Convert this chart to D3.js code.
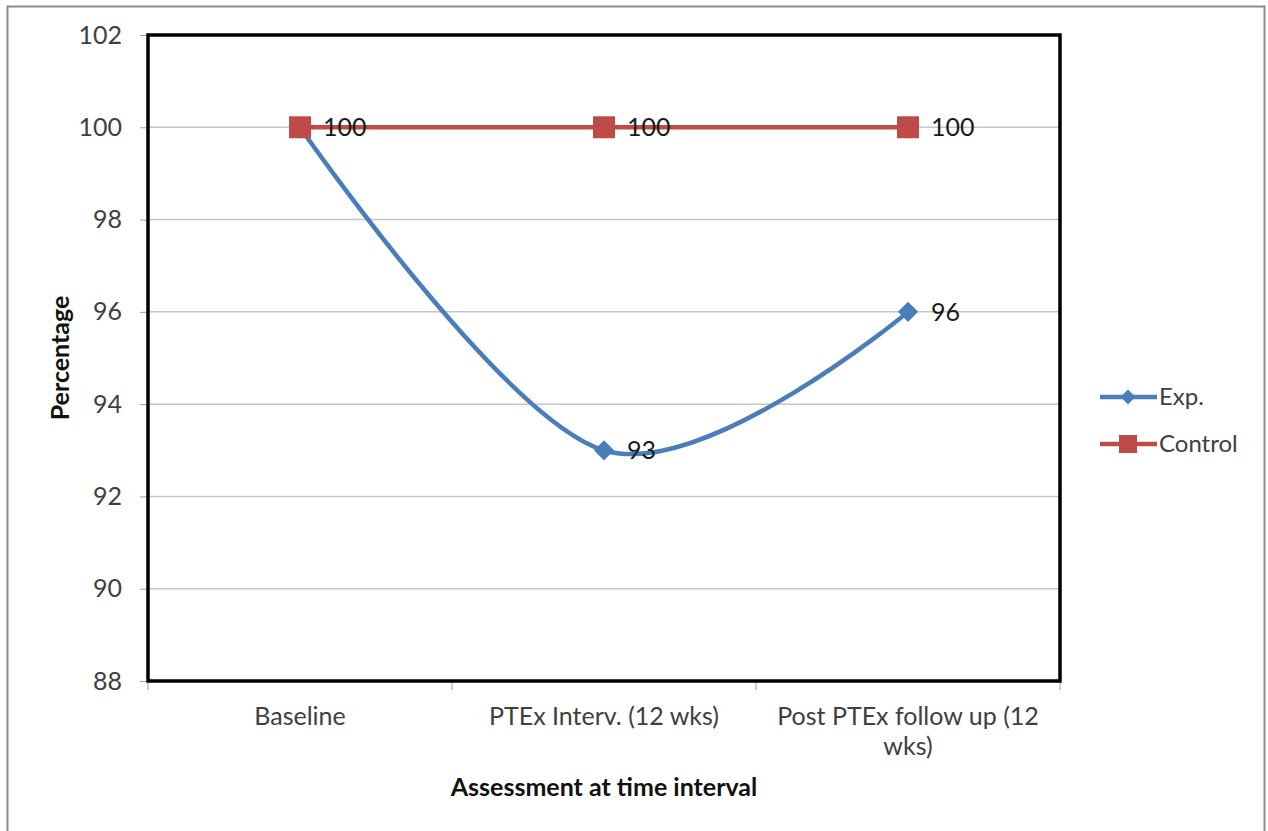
<!DOCTYPE html>
<html>
<head>
<meta charset="utf-8">
<script src="https://cdn.jsdelivr.net/npm/d3@7"></script>
<style>
  body { margin: 0; background: #fff; }
  svg { display: block; font-family: Lato, "Open Sans", sans-serif; }
</style>
</head>
<body>
<svg class="chart"></svg>
<script>
var categories = ["Baseline", "PTEx Interv. (12 wks)", "Post PTEx follow up (12 wks)"];
var expValues = [100, 93, 96];
var controlValues = [100, 100, 100];
var seriesNames = ["Exp.", "Control"];
var yTicks = [88, 90, 92, 94, 96, 98, 100, 102];

var width = 1268;
var height = 831;
var plotLeft = 148, plotTop = 35, plotRight = 1060, plotBottom = 681;
var fontSize = 25;

var svg = d3.select(".chart")
  .attr("width", width)
  .attr("height", height);

// outer frame
svg.append("rect")
   .attr("x", 7.5).attr("y", 6.5)
   .attr("width", 1257).attr("height", 830)
   .attr("fill", "#fff")
   .attr("stroke", "#8c8c8c")
   .attr("stroke-width", 2);

var x = d3.scaleBand()
  .domain(categories)
  .range([plotLeft, plotRight]);

var y = d3.scaleLinear()
  .domain([88, 102])
  .range([plotBottom, plotTop]);

var colors = {"Exp.": "#4a7ebb", "Control": "#be4b48"};

// gridlines
svg.selectAll("line.grid")
   .data(yTicks)
   .enter()
   .append("line")
   .attr("class", "grid")
   .attr("x1", plotLeft).attr("x2", plotRight)
   .attr("y1", function(d){return y(d);})
   .attr("y2", function(d){return y(d);})
   .attr("stroke", "#c6c6c6")
   .attr("stroke-width", 1.5);

// y axis
var yAxis = svg.append("g")
  .attr("transform", "translate(" + plotLeft + ",0)")
  .call(d3.axisLeft(y).tickValues(yTicks).tickSize(8).tickPadding(18));
yAxis.select(".domain").remove();
yAxis.selectAll("line").attr("stroke", "#a0a0a0");
yAxis.selectAll("text")
  .attr("font-size", fontSize)
  .attr("fill", "#404040")
  .style("font-family", "Lato, sans-serif");

// x axis ticks at band edges
var edges = categories.map(function(c){return x(c);}).concat([plotRight]);
svg.selectAll("line.xtick")
   .data(edges)
   .enter()
   .append("line")
   .attr("class", "xtick")
   .attr("x1", function(d){return d;})
   .attr("x2", function(d){return d;})
   .attr("y1", plotBottom).attr("y2", plotBottom + 9)
   .attr("stroke", "#a0a0a0");

// x labels (wrapped)
var xLabels = [["Baseline"], ["PTEx Interv. (12 wks)"], ["Post PTEx follow up (12", "wks)"]];
svg.selectAll("text.xlab")
   .data(categories)
   .enter()
   .append("text")
   .attr("class", "xlab")
   .attr("x", function(d){return x(d) + x.bandwidth()/2;})
   .attr("y", 725)
   .attr("text-anchor", "middle")
   .attr("font-size", fontSize)
   .attr("fill", "#404040")
   .each(function(d, i){
     var t = d3.select(this);
     xLabels[i].forEach(function(line, j){
       t.append("tspan")
        .attr("x", x(d) + x.bandwidth()/2)
        .attr("dy", j === 0 ? 0 : 30)
        .text(line);
     });
   });

// plot frame
svg.append("rect")
   .attr("x", plotLeft).attr("y", plotTop)
   .attr("width", plotRight - plotLeft).attr("height", plotBottom - plotTop)
   .attr("fill", "none")
   .attr("stroke", "#000")
   .attr("stroke-width", 3.5);

// axis titles
svg.append("text")
   .text("Percentage")
   .attr("transform", "translate(69," + ((plotTop + plotBottom)/2) + ") rotate(-90)")
   .attr("text-anchor", "middle")
   .attr("font-size", fontSize)
   .attr("font-weight", "bold")
   .attr("fill", "#111");

svg.append("text")
   .text("Assessment at time interval")
   .attr("x", (plotLeft + plotRight)/2)
   .attr("y", 796)
   .attr("text-anchor", "middle")
   .attr("font-size", fontSize)
   .attr("font-weight", "bold")
   .attr("fill", "#111");

var cx = function(i){return x(categories[i]) + x.bandwidth()/2;};

var line = d3.line()
  .x(function(d, i){return cx(i);})
  .y(function(d){return y(d);});

// Exp. smoothed line
svg.append("path")
   .datum(expValues)
   .attr("d", line.curve(d3.curveCardinal.tension(0)))
   .attr("fill", "none")
   .attr("stroke", colors["Exp."])
   .attr("stroke-width", 4.5);

svg.selectAll("path.diamond")
   .data(expValues)
   .enter()
   .append("path")
   .attr("class", "diamond")
   .attr("d", d3.symbol().type(d3.symbolDiamond2).size(260))
   .attr("transform", function(d, i){return "translate(" + cx(i) + "," + y(d) + ")";})
   .attr("fill", colors["Exp."]);

// Control line
svg.append("path")
   .datum(controlValues)
   .attr("d", line.curve(d3.curveLinear))
   .attr("fill", "none")
   .attr("stroke", colors["Control"])
   .attr("stroke-width", 4.5);

svg.selectAll("rect.square")
   .data(controlValues)
   .enter()
   .append("rect")
   .attr("class", "square")
   .attr("x", function(d, i){return cx(i) - 11;})
   .attr("y", function(d){return y(d) - 11;})
   .attr("width", 22).attr("height", 22)
   .attr("fill", colors["Control"]);

// data labels
var allPoints = [];
expValues.forEach(function(v, i){ if (v !== controlValues[i]) allPoints.push({i: i, v: v}); });
controlValues.forEach(function(v, i){ allPoints.push({i: i, v: v}); });

svg.selectAll("text.lab")
   .data(allPoints)
   .enter()
   .append("text")
   .attr("class", "lab")
   .text(function(d){return d.v;})
   .attr("x", function(d){return cx(d.i) + 23;})
   .attr("y", function(d){return y(d.v) + 9;})
   .attr("font-size", fontSize)
   .attr("fill", "#1a1a1a");

// legend
var legend = svg.selectAll("g.leg")
  .data(seriesNames)
  .enter()
  .append("g")
  .attr("class", "leg")
  .attr("transform", function(d, i){return "translate(1100," + (397 + i*47) + ")";});

legend.append("line")
  .attr("x1", 0).attr("x2", 57)
  .attr("stroke", function(d){return colors[d];})
  .attr("stroke-width", 4.5);

legend.append("path")
  .attr("d", function(d){
    return d === "Exp."
      ? d3.symbol().type(d3.symbolDiamond2).size(140)()
      : "M-9,-9H9V9H-9Z";
  })
  .attr("transform", "translate(28,0)")
  .attr("fill", function(d){return colors[d];});

legend.append("text")
  .text(function(d){return d;})
  .attr("x", 59)
  .attr("y", 8)
  .attr("font-size", 24)
  .attr("fill", "#404040");
</script>
</body>
</html>
